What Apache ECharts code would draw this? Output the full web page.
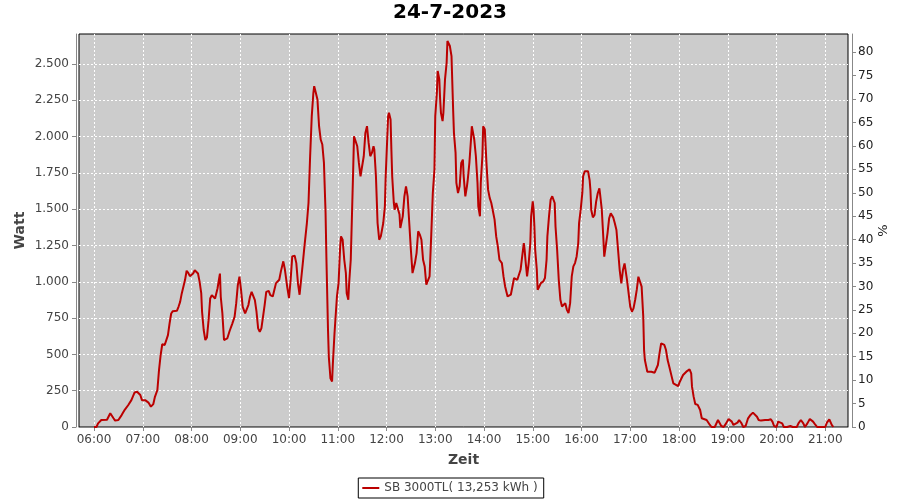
<!DOCTYPE html>
<html>
<head>
<meta charset="utf-8">
<script src="https://cdn.jsdelivr.net/npm/echarts@6/dist/echarts.min.js"></script>
<style>
html, body { margin: 0; background: #fff; }
#chart { width: 900px; height: 500px; }
</style>
</head>
<body>
<div id="chart"></div>
<script>
// Tagesleistung 24.07.2023, Zeitpunkte (HH:MM) und Leistung in Watt
var times = [
  "06:00","06:03","06:05","06:09","06:16","06:20","06:24","06:26","06:30","06:34",
  "06:38","06:42","06:46","06:50","06:53","06:57","06:59","07:03","07:05","07:07",
  "07:10","07:13","07:15","07:18","07:20","07:22","07:24","07:27","07:29","07:31",
  "07:33","07:35","07:37","07:42","07:44","07:46","07:48","07:50","07:52","07:54",
  "07:56","07:58","08:00","08:02","08:04","08:06","08:08","08:10","08:12","08:13",
  "08:15","08:17","08:19","08:21","08:23","08:25","08:27","08:29","08:32","08:34",
  "08:35","08:36","08:38","08:40","08:42","08:44","08:47","08:50","08:53","08:55",
  "08:57","08:59","09:01","09:03","09:06","09:08","09:10","09:12","09:14","09:16",
  "09:18","09:20","09:22","09:24","09:26","09:28","09:30","09:32","09:35","09:37",
  "09:40","09:42","09:44","09:48","09:50","09:53","09:55","09:58","10:00","10:02",
  "10:04","10:07","10:09","10:11","10:13","10:15","10:17","10:19","10:22","10:24",
  "10:26","10:28","10:30","10:31","10:33","10:35","10:37","10:39","10:41","10:43",
  "10:45","10:46","10:48","10:49","10:51","10:53","10:54","10:56","10:59","11:01",
  "11:03","11:04","11:06","11:08","11:10","11:11","11:13","11:14","11:16","11:17",
  "11:19","11:20","11:22","11:24","11:26","11:28","11:30","11:32","11:34","11:36",
  "11:38","11:40","11:42","11:44","11:45","11:47","11:49","11:51","11:53","11:56",
  "11:58","11:59","12:00","12:02","12:03","12:05","12:06","12:07","12:09","12:10",
  "12:12","12:14","12:16","12:17","12:19","12:20","12:22","12:24","12:26","12:28",
  "12:30","12:32","12:35","12:37","12:39","12:41","12:43","12:45","12:47","12:49",
  "12:51","12:53","12:55","12:57","12:59","13:00","13:02","13:03","13:05","13:06",
  "13:07","13:09","13:10","13:12","13:14","13:15","13:16","13:18","13:20","13:22",
  "13:23","13:25","13:26","13:28","13:30","13:32","13:34","13:35","13:37","13:39",
  "13:40","13:42","13:44","13:45","13:47","13:48","13:50","13:52","13:53","13:55",
  "13:56","13:58","13:59","14:01","14:03","14:05","14:07","14:09","14:11","14:13",
  "14:15","14:17","14:19","14:22","14:24","14:26","14:29","14:31","14:33","14:35",
  "14:37","14:39","14:41","14:43","14:45","14:47","14:49","14:50","14:51","14:53",
  "14:54","14:55","14:57","14:58","15:00","15:01","15:02","15:03","15:05","15:06",
  "15:08","15:10","15:13","15:15","15:17","15:18","15:20","15:22","15:24","15:25",
  "15:27","15:28","15:30","15:32","15:34","15:36","15:38","15:40","15:42","15:44",
  "15:46","15:48","15:50","15:52","15:54","15:56","15:57","15:59","16:01","16:02",
  "16:04","16:06","16:08","16:10","16:11","16:12","16:14","16:16","16:18","16:20",
  "16:22","16:23","16:24","16:25","16:27","16:28","16:30","16:32","16:34","16:36",
  "16:39","16:41","16:43","16:45","16:47","16:49","16:51","16:53","16:54","16:56",
  "16:58","17:00","17:02","17:04","17:06","17:08","17:10","17:11","17:14","17:16",
  "17:17","17:18","17:21","17:23","17:26","17:30","17:32","17:34","17:36","17:38",
  "17:40","17:42","17:44","17:46","17:48","17:51","17:53","17:55","17:59","18:01",
  "18:05","18:09","18:11","18:13","18:15","18:16","18:18","18:20","18:23","18:26",
  "18:28","18:30","18:34","18:36","18:38","18:40","18:44","18:48","18:50","18:52",
  "18:55","18:58","19:01","19:03","19:05","19:07","19:09","19:12","19:14","19:17",
  "19:19","19:22","19:25","19:28","19:31","19:33","19:36","19:38","19:41","19:46",
  "19:50","19:53","19:55","19:57","20:00","20:02","20:04","20:07","20:09","20:13",
  "20:17","20:20","20:25","20:27","20:30","20:33","20:35","20:38","20:41","20:43",
  "20:45","20:48","20:50","21:00","21:02","21:05","21:06","21:08","21:10"
];
var watt = [
  0,0,25,48,50,95,60,44,48,82,
  120,150,185,238,243,220,185,185,190,168,
  140,158,208,255,392,495,570,565,565,633,
  713,782,798,800,828,862,920,966,1012,1076,
  1062,1039,1035,1057,1080,1085,1057,1000,920,794,
  668,599,617,736,885,908,897,885,954,1023,
  1057,897,782,599,587,610,663,709,759,851,
  977,1035,943,828,782,794,840,897,931,931,
  874,794,679,656,679,759,840,931,938,908,
  899,945,991,1014,1072,1141,1083,957,888,1014,
  1175,1180,1129,991,911,922,1129,1244,1405,1543,
  1865,2141,2302,2348,2302,2256,2072,1980,1946,1819,
  1474,1175,669,485,336,313,439,646,899,991,
  1244,1313,1290,1152,1060,922,876,991,1152,1359,
  1773,2003,1992,1934,1819,1727,1727,1865,2026,2072,
  1957,1865,1888,1934,1911,1727,1405,1290,1313,1405,
  1520,1727,1865,2141,2164,2118,1911,1727,1543,1497,
  1543,1543,1463,1371,1359,1451,1589,1658,1589,1405,
  1221,1060,1129,1198,1348,1325,1290,1152,1106,980,
  973,1037,1313,1612,1773,2141,2302,2452,2394,2256,
  2164,2107,2164,2394,2509,2659,2648,2624,2555,2187,
  2026,1888,1681,1612,1658,1819,1842,1727,1589,1658,
  1704,1819,1980,2072,2084,1980,1865,1681,1520,1451,
  1681,1865,2072,2049,1819,1635,1578,1543,1486,1428,
  1313,1244,1152,1129,1037,968,899,892,911,968,
  1026,1037,1014,1026,1083,1175,1267,1221,1152,1037,
  1083,1129,1267,1451,1555,1497,1382,1221,1083,945,
  968,991,1003,1026,1152,1313,1451,1566,1589,1601,
  1543,1382,1221,1014,876,830,842,853,807,784,
  853,1037,1106,1129,1175,1267,1405,1497,1612,1727,
  1762,1773,1762,1700,1632,1495,1444,1460,1552,1610,
  1644,1598,1587,1495,1288,1173,1185,1334,1437,1472,
  1444,1403,1357,1219,1081,990,1081,1127,1127,1013,
  921,829,794,817,875,944,1035,1024,967,760,
  530,461,381,374,381,374,381,427,507,576,
  588,565,530,461,416,347,301,289,282,312,
  358,381,393,397,370,278,209,158,152,117,
  60,48,48,37,14,0,0,48,37,7,
  0,25,55,60,37,14,7,30,48,25,
  0,7,60,83,99,94,71,48,44,48,
  48,53,37,7,0,37,48,25,0,0,
  7,0,0,25,48,25,0,25,55,60,
  37,14,0,0,30,53,44,14,0
];
var seriesName = "SB 3000TL( 13,253 kWh )";
var chartTitle = "24-7-2023";

function toMs(t) {
  var p = t.split(":");
  return new Date(2023, 6, 24, +p[0], +p[1], 0).getTime();
}
function pad(n) { return (n < 10 ? "0" : "") + n; }
function dots(v) { return String(v).replace(/\B(?=(\d{3})+(?!\d))/g, "."); }

var data = times.map(function (t, i) { return [toMs(t), watt[i]]; });

var chart = echarts.init(document.getElementById("chart"));
var font = "DejaVu Sans";

chart.setOption({
  animation: false,
  textStyle: { fontFamily: font },
  title: {
    text: chartTitle,
    left: "center",
    top: 3,
    padding: 0,
    textStyle: { fontSize: 20, fontWeight: "bold", color: "#000", fontFamily: font }
  },
  legend: {
    bottom: 2,
    left: "center",
    borderColor: "#000",
    borderWidth: 1,
    borderRadius: 0,
    padding: [4, 6, 4, 4],
    icon: "rect",
    itemWidth: 17,
    itemHeight: 2,
    textStyle: { fontSize: 12, color: "#444", fontFamily: font },
    data: [seriesName]
  },
  grid: {
    left: 79, top: 34, right: 52, bottom: 73,
    outerBoundsMode: "none",
    containLabel: false,
    show: true,
    backgroundColor: "#cccccc",
    borderColor: "#000",
    borderWidth: 1
  },
  xAxis: {
    type: "time",
    min: new Date(2023, 6, 24, 5, 41, 32).getTime(),
    max: new Date(2023, 6, 24, 21, 28, 0).getTime(),
    minInterval: 3600000,
    maxInterval: 3600000,
    offset: 4,
    name: "Zeit",
    nameLocation: "middle",
    nameGap: 22,
    nameMoveOverlap: false,
    nameTextStyle: { fontSize: 14, fontWeight: "bold", color: "#444", fontFamily: font },
    axisLine: { show: true, lineStyle: { color: "#888", width: 1 } },
    axisTick: { show: true, length: 4, lineStyle: { color: "#888" } },
    axisLabel: {
      color: "#444", fontSize: 12, margin: 3, fontFamily: font,
      showMinLabel: false, showMaxLabel: false,
      formatter: function (v) {
        var d = new Date(v);
        if (d.getMinutes() !== 0) return "";
        return pad(d.getHours()) + ":00";
      }
    },
    splitLine: {
      show: true, showMinLine: false, showMaxLine: false,
      lineStyle: { color: "#fff", type: [2, 2], width: 1 }
    }
  },
  yAxis: [
    {
      type: "value",
      position: "left",
      min: 0, max: 2707, interval: 250,
      offset: 3,
      name: "Watt",
      nameLocation: "middle",
      nameGap: 49,
      nameMoveOverlap: false,
      nameTextStyle: { fontSize: 14, fontWeight: "bold", color: "#444", fontFamily: font },
      axisLine: { show: true, lineStyle: { color: "#888", width: 1 } },
      axisTick: { show: true, length: 4, lineStyle: { color: "#888" } },
      axisLabel: {
        color: "#444", fontSize: 12, margin: 7, fontFamily: font, showMaxLabel: false,
        formatter: function (v) { return v % 250 === 0 ? dots(v) : ""; }
      },
      splitLine: {
        show: true, showMinLine: false, showMaxLine: false,
        lineStyle: { color: "#fff", type: [2, 2], width: 1 }
      }
    },
    {
      type: "value",
      position: "right",
      min: 0, max: 83.9, interval: 5,
      offset: 4,
      name: "%",
      nameLocation: "middle",
      nameGap: 25,
      nameMoveOverlap: false,
      nameTextStyle: { fontSize: 13, color: "#222", fontFamily: font },
      axisLine: { show: true, lineStyle: { color: "#888", width: 1 } },
      axisTick: { show: true, length: 4, lineStyle: { color: "#888" } },
      axisLabel: {
        color: "#222", fontSize: 12, margin: 6, fontFamily: font, showMaxLabel: false,
        formatter: function (v) { return v % 5 === 0 ? String(v) : ""; }
      },
      splitLine: { show: false }
    }
  ],
  series: [
    {
      name: seriesName,
      type: "line",
      yAxisIndex: 0,
      data: data,
      symbol: "none",
      lineStyle: { color: "#bb0000", width: 2 },
      itemStyle: { color: "#bb0000" }
    }
  ]
});
</script>
</body>
</html>
